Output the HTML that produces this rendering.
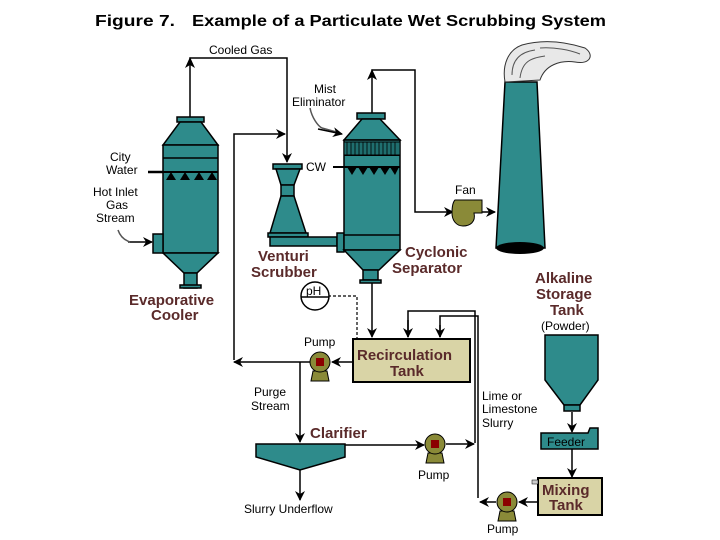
<!DOCTYPE html>
<html><head><style>body{margin:0;background:#fff}svg{display:block}text{font-family:"Liberation Sans",sans-serif}</style></head><body>
<svg width="720" height="540" viewBox="0 0 720 540" xmlns="http://www.w3.org/2000/svg">
<defs><marker id="a" markerWidth="10" markerHeight="10" refX="9" refY="5" orient="auto" markerUnits="userSpaceOnUse"><path d="M0,0 L10,5 L0,10 L3,5 z" fill="#000"/></marker></defs>
<rect width="720" height="540" fill="#fff"/>
<text x="95" y="26" font-size="16" font-weight="bold" textLength="80" lengthAdjust="spacingAndGlyphs">Figure 7.</text>
<text x="192" y="26" font-size="16" font-weight="bold" textLength="414" lengthAdjust="spacingAndGlyphs">Example of a Particulate Wet Scrubbing System</text>
<g stroke="#000" stroke-width="1.5" fill="none">
<polyline points="190,117 190,58 287,58 287,162" marker-end="url(#a)"/>
<polyline points="234,360 234,134 285,134" marker-end="url(#a)"/>
<polyline points="372,113 372,70 415,70 415,212 453,212" marker-end="url(#a)"/>
<line x1="128" y1="242" x2="152" y2="242" marker-end="url(#a)"/>
<line x1="148" y1="172" x2="163" y2="172" stroke-width="2.5"/>
<line x1="333" y1="167" x2="344" y2="167" stroke-width="2"/>
<polyline points="478,212 495,212" marker-end="url(#a)"/>
<line x1="372" y1="282" x2="372" y2="337" marker-end="url(#a)"/>
<polyline points="408,337 408,311 475,311 475,443"/>
<line x1="408" y1="320" x2="408" y2="337" marker-end="url(#a)"/>
<polyline points="440,337 440,316 478,316 478,498"/>
<line x1="440" y1="325" x2="440" y2="337" marker-end="url(#a)"/>
<line x1="353" y1="362" x2="332" y2="362" marker-end="url(#a)"/>
<line x1="310" y1="362" x2="234" y2="362" marker-end="url(#a)"/>
<line x1="300" y1="362" x2="300" y2="442" marker-end="url(#a)"/>
<line x1="300" y1="470" x2="300" y2="500" marker-end="url(#a)"/>
<line x1="345" y1="445" x2="424" y2="445" marker-end="url(#a)"/>
<line x1="446" y1="444" x2="474" y2="444" marker-end="url(#a)"/>
<line x1="538" y1="502" x2="519" y2="502" marker-end="url(#a)"/>
<line x1="496" y1="502" x2="480" y2="502" marker-end="url(#a)"/>
<line x1="572" y1="412" x2="572" y2="432" marker-end="url(#a)"/>
<line x1="572" y1="449" x2="572" y2="477" marker-end="url(#a)"/>
<polyline points="328,296 357,296 357,338" stroke-dasharray="3,2" stroke-width="1.2"/>
<path d="M310,108 C312,118 318,126 322,128 L340,133" stroke="#555"/>
<line x1="318" y1="129" x2="342" y2="134" marker-end="url(#a)"/>
<path d="M118,230 C120,236 124,240 130,242" stroke="#555"/>
</g>
<path d="M185,68 L190,57 L195,68 L190,65 Z M367,80 L372,69 L377,80 L372,77 Z" fill="#000"/>
<g fill="#2e8b8b" stroke="#000" stroke-width="1.5">
<rect x="177" y="117" width="27" height="5"/>
<path d="M180,122 L201,122 L218,145 L163,145 Z"/>
<rect x="163" y="145" width="55" height="108"/>
<path d="M163,253 L218,253 L197,273 L184,273 Z"/>
<rect x="184" y="273" width="13" height="15"/>
<rect x="180" y="285" width="21" height="3"/>
<rect x="153" y="234" width="10" height="19"/>
<rect x="273" y="164" width="29" height="5"/>
<path d="M276,169 L300,169 L294,185 L281,185 Z"/>
<rect x="281" y="185" width="13" height="11"/>
<path d="M281,196 L294,196 L306,233 L270,233 Z"/>
<rect x="268" y="233" width="40" height="4"/>
<rect x="270" y="237" width="67" height="9"/>
<rect x="337" y="233" width="7" height="19"/>
<rect x="357" y="113" width="28" height="6"/>
<path d="M362,119 L380,119 L400,140 L344,140 Z"/>
<rect x="344" y="140" width="56" height="110"/>
<path d="M344,250 L400,250 L379,270 L363,270 Z"/>
<rect x="363" y="270" width="15" height="10"/>
<rect x="360" y="280" width="21" height="3"/>
<path d="M505,82 L537,82 L545,248 L496,248 Z"/>
<path d="M545,335 L598,335 L598,380 L580,405 L564,405 L545,380 Z"/>
<rect x="564" y="405" width="16" height="6"/>
<path d="M541,433 L588,433 L590,428 L598,428 L598,449 L541,449 Z"/>
<path d="M256,444 L345,444 L345,457 L300,470 L256,457 Z"/>
</g>
<ellipse cx="520" cy="248" rx="24" ry="6" fill="#000"/>
<path d="M505,82 C502,65 508,50 522,45 C540,40 560,40 585,48 C595,55 590,65 575,62 C560,60 545,65 540,80 Z" fill="#e8e8e8" stroke="#333"/>
<path d="M512,75 C512,60 520,52 535,50 M520,78 C522,62 530,58 545,56 M540,48 C555,47 570,50 580,54" stroke="#555" fill="none"/>
<g stroke="#000" stroke-width="1.5">
<line x1="163" y1="172" x2="218" y2="172" stroke-width="2"/>
<line x1="163" y1="158" x2="218" y2="158"/>
<line x1="344" y1="155" x2="400" y2="155" stroke-width="2"/>
<line x1="344" y1="167" x2="400" y2="167" stroke-width="2"/>
<line x1="344" y1="235" x2="400" y2="235" stroke-width="1.5"/>
</g>
<rect x="344" y="142" width="56" height="13" fill="#1f6f6f" stroke="#000"/>
<g stroke="#000" stroke-width="0.8">
<path d="M347,142V155M351,142V155M355,142V155M359,142V155M363,142V155M367,142V155M371,142V155M375,142V155M379,142V155M383,142V155M387,142V155M391,142V155M395,142V155"/>
</g>
<g fill="#000">
<path d="M166,180 L171,172 L176,180 Z M180,180 L185,172 L190,180 Z M194,180 L199,172 L204,180 Z M207,180 L212,172 L217,180 Z"/>
<path d="M347,167 L352,175 L357,167 Z M358,167 L363,175 L368,167 Z M369,167 L374,175 L379,167 Z M380,167 L385,175 L390,167 Z M390,167 L395,175 L399,167 Z"/>
</g>
<path d="M455,200 L482,200 L482,213 L474,213 C476,222 470,226 463,226 C456,226 452,220 452,213 C452,206 453,202 455,200 Z" fill="#8a8a38" stroke="#000"/>
<rect x="353" y="339" width="117" height="43" fill="#d9d4a6" stroke="#000" stroke-width="2"/>
<rect x="538" y="478" width="64" height="37" fill="#d9d4a6" stroke="#000" stroke-width="2"/>
<rect x="532" y="480" width="6" height="4" fill="#ccc" stroke="#000" stroke-width="0.5"/>
<circle cx="315" cy="296" r="14" fill="#fff" stroke="#000" stroke-width="1.5"/>
<line x1="301" y1="297" x2="329" y2="297" stroke="#000" stroke-width="1.5"/>
<text x="306" y="295" font-size="12">pH</text>
<g id="p" fill="#8a8a38" stroke="#000">
<path d="M313,371 L327,371 L329,381 L311,381 Z"/>
<circle cx="320" cy="362" r="10"/>
<rect x="316" y="358" width="8" height="8" fill="#8b0000" stroke="none"/>
</g>
<use href="#p" x="115" y="82"/>
<use href="#p" x="187" y="140"/>
<g font-size="12" fill="#000">
<text x="209" y="54">Cooled Gas</text>
<text x="314" y="93">Mist</text>
<text x="292" y="106">Eliminator</text>
<text x="110" y="161">City</text>
<text x="106" y="174">Water</text>
<text x="93" y="196">Hot Inlet</text>
<text x="106" y="209">Gas</text>
<text x="96" y="222">Stream</text>
<text x="306" y="171">CW</text>
<text x="455" y="194">Fan</text>
<text x="304" y="346">Pump</text>
<text x="254" y="396">Purge</text>
<text x="251" y="410">Stream</text>
<text x="482" y="400">Lime or</text>
<text x="482" y="413">Limestone</text>
<text x="482" y="427">Slurry</text>
<text x="418" y="479">Pump</text>
<text x="244" y="513">Slurry Underflow</text>
<text x="487" y="533">Pump</text>
<text x="541" y="330">(Powder)</text>
<text x="547" y="446" fill="#000">Feeder</text>
</g>
<g font-size="15" font-weight="bold" fill="#5a2a2a">
<text x="129" y="305">Evaporative</text>
<text x="151" y="320">Cooler</text>
<text x="258" y="261">Venturi</text>
<text x="251" y="277">Scrubber</text>
<text x="405" y="257">Cyclonic</text>
<text x="392" y="273">Separator</text>
<text x="535" y="283">Alkaline</text>
<text x="536" y="299">Storage</text>
<text x="550" y="315">Tank</text>
<text x="357" y="360">Recirculation</text>
<text x="390" y="376">Tank</text>
<text x="310" y="438">Clarifier</text>
<text x="542" y="495">Mixing</text>
<text x="549" y="510">Tank</text>
</g>
</svg>
</body></html>
